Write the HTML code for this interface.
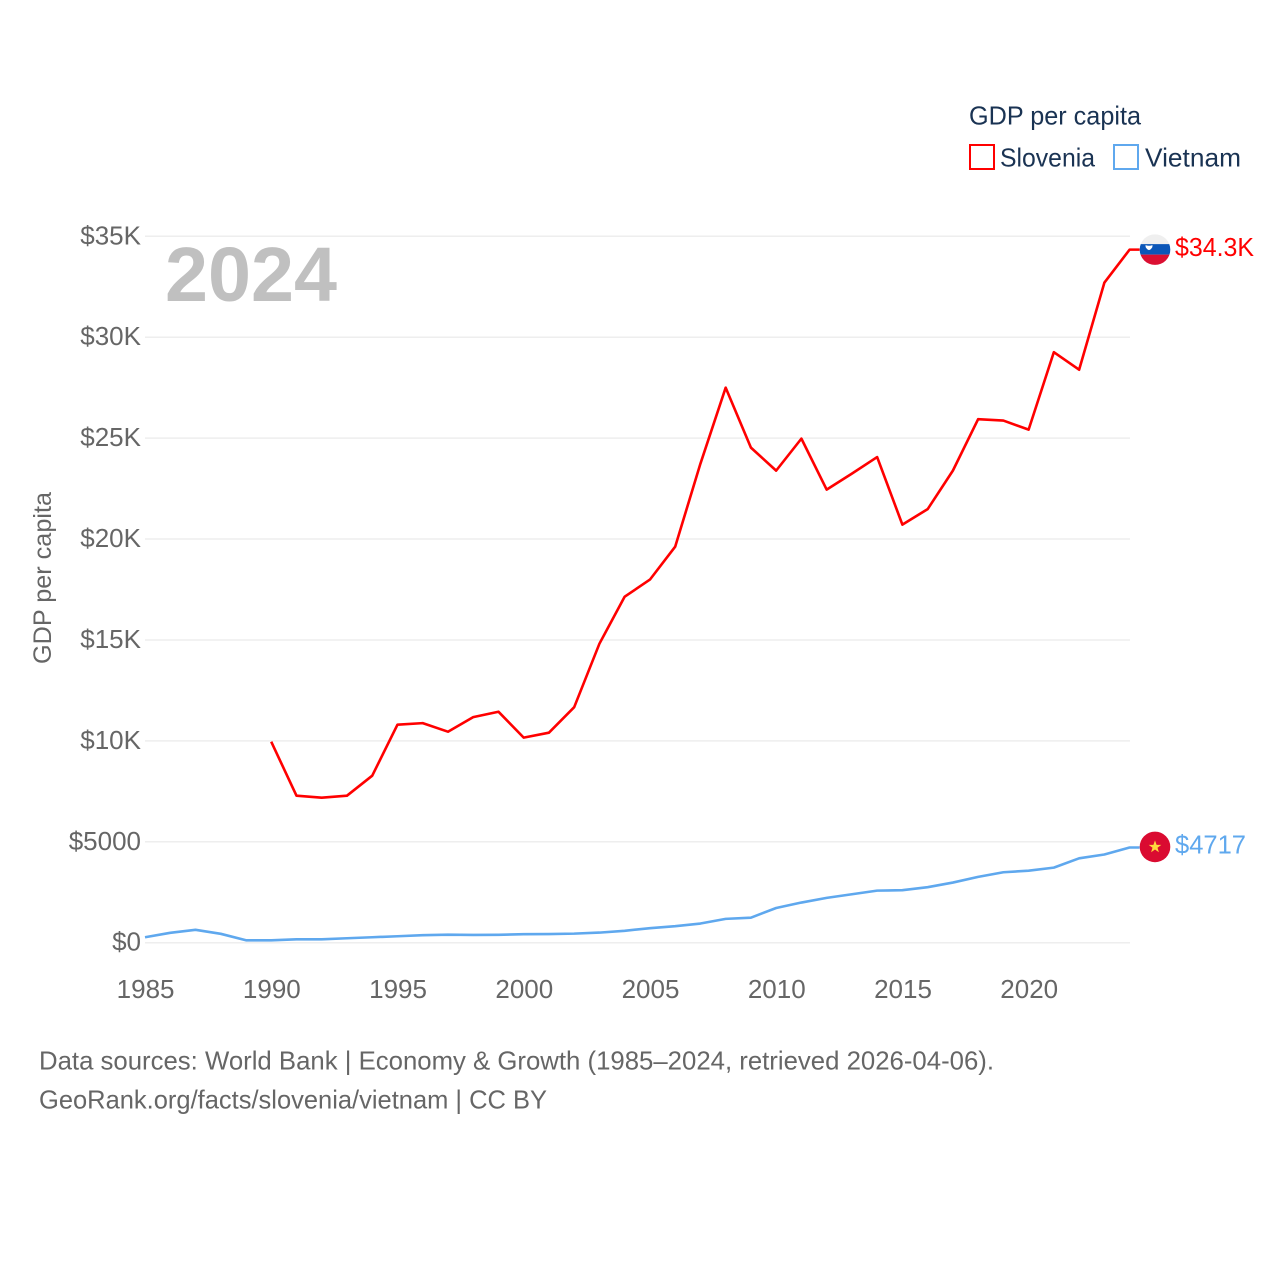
<!DOCTYPE html>
<html lang="en">
<head>
<meta charset="utf-8">
<title>GDP per capita: Slovenia and Vietnam</title>
<style>
html,body{margin:0;padding:0;background:#fff;width:1280px;height:1280px;overflow:hidden}
svg{display:block}
text{font-family:"Liberation Sans",Arial,sans-serif}
</style>
</head>
<body>
<svg id="chart" xmlns="http://www.w3.org/2000/svg" width="1280" height="1280" viewBox="0 0 1280 1280">
  <rect width="1280" height="1280" fill="#fff"/>
  <g id="grid"></g>
  <g id="yticks"></g>
  <g id="xticks"></g>
  <text x="165" y="301" font-size="77" font-weight="700" fill="#c0c0c0" textLength="172" lengthAdjust="spacingAndGlyphs">2024</text>
  <text transform="translate(51 664) rotate(-90)" font-size="25" fill="#666" textLength="172" lengthAdjust="spacingAndGlyphs">GDP per capita</text>
  <g id="series"></g>
  <g id="ends"></g>

  <g>
    <text x="969" y="124.5" font-size="26" fill="#1a3353" textLength="172" lengthAdjust="spacingAndGlyphs">GDP per capita</text>
    <g>
      <rect x="970" y="145" width="24" height="24" fill="#fff" stroke="#ff0000" stroke-width="2"/>
      <text x="1000" y="166.5" font-size="26" fill="#1a3353" textLength="95" lengthAdjust="spacingAndGlyphs">Slovenia</text>
    </g>
    <g>
      <rect x="1114" y="145" width="24" height="24" fill="#fff" stroke="#5fa8ee" stroke-width="2"/>
      <text x="1145" y="166.5" font-size="26" fill="#1a3353" textLength="96" lengthAdjust="spacingAndGlyphs">Vietnam</text>
    </g>
  </g>

  <text x="39" y="1069.5" font-size="26" fill="#666" textLength="955" lengthAdjust="spacingAndGlyphs">Data sources: World Bank | Economy &amp; Growth (1985–2024, retrieved 2026-04-06).</text>
  <text x="39" y="1108.5" font-size="26" fill="#666" textLength="508" lengthAdjust="spacingAndGlyphs">GeoRank.org/facts/slovenia/vietnam | CC BY</text>
</svg>
<script>
const years = [1985,1986,1987,1988,1989,1990,1991,1992,1993,1994,1995,1996,1997,1998,1999,2000,2001,2002,2003,2004,2005,2006,2007,2008,2009,2010,2011,2012,2013,2014,2015,2016,2017,2018,2019,2020,2021,2022,2023,2024];
const sloveniaValues = [null,null,null,null,null,9960,7284,7185,7284,8275,10800,10880,10455,11175,11445,10160,10405,11670,14815,17145,17990,19620,23735,27500,24530,23390,24975,22450,23240,24060,20715,21480,23390,25940,25870,25420,29260,28390,32700,34340];
const vietnamValues = [270,490,640,440,120,120,170,170,220,270,320,370,395,385,390,420,430,450,500,590,720,820,950,1180,1240,1720,1990,2220,2400,2580,2600,2750,2980,3260,3490,3570,3720,4180,4370,4717];
const yTickValues = [0,5000,10000,15000,20000,25000,30000,35000];
const yTickLabels = ["$0","$5000","$10K","$15K","$20K","$25K","$30K","$35K"];
const xTickValues = [1985,1990,1995,2000,2005,2010,2015,2020];
const xTickLabels = ["1985","1990","1995","2000","2005","2010","2015","2020"];
const sloveniaEndLabel = "$34.3K";
const vietnamEndLabel = "$4717";

const NS = "http://www.w3.org/2000/svg";
function xScale(year){ return 145 + (year - 1985) * (1129.6 - 145) / 39; }
function yScale(v){ return 942.7 - v * (942.7 - 236.3) / 35000; }
function make(tag, attrs, parent){
  const el = document.createElementNS(NS, tag);
  for (const k in attrs) el.setAttribute(k, attrs[k]);
  parent.appendChild(el);
  return el;
}

const gridG = document.getElementById('grid');
const yG = document.getElementById('yticks');
yTickValues.forEach(function(v, i){
  const line = make('line', {x1:145, x2:1130, y1:yScale(v), y2:yScale(v), stroke:'#eeeeee', 'stroke-width':1.5}, gridG);
  
  
  const t = make('text', {x:141, y:yScale(v)+8, 'text-anchor':'end', 'font-size':26, fill:'#666'}, yG);
  
  
  t.textContent = yTickLabels[i];
});

const xG = document.getElementById('xticks');
xTickValues.forEach(function(y, i){
  const t = make('text', {x:xScale(y)+0.6, y:998, 'text-anchor':'middle', 'font-size':26, fill:'#666'}, xG);
  
  
  t.textContent = xTickLabels[i];
});

function linePath(values){
  let d = '', started = false;
  values.forEach(function(v, i){
    if (v === null) return;
    d += (started ? 'L' : 'M') + xScale(years[i]).toFixed(2) + ' ' + yScale(v).toFixed(2);
    started = true;
  });
  const last = values[values.length - 1];
  d += 'L' + (xScale(years[years.length - 1]) + 10).toFixed(2) + ' ' + yScale(last).toFixed(2);
  return d;
}

const seriesG = document.getElementById('series');
const sloveniaLine = make('path', {d:linePath(sloveniaValues), fill:'none', stroke:'#ff0000', 'stroke-width':2.6, 'stroke-linejoin':'round'}, seriesG);


const vietnamLine = make('path', {d:linePath(vietnamValues), fill:'none', stroke:'#5fa8ee', 'stroke-width':2.6, 'stroke-linejoin':'round'}, seriesG);



const endsG = document.getElementById('ends');
const defs = make('defs', {}, endsG);
const clip = make('clipPath', {id:'si-clip'}, defs);
make('circle', {cx:0, cy:0, r:15.3}, clip);

// Slovenia flag marker
const siY = yScale(sloveniaValues[sloveniaValues.length - 1]);
const siFlag = make('g', {transform:'translate(1155 ' + siY.toFixed(2) + ')', 'clip-path':'url(#si-clip)'}, endsG);


make('rect', {x:-16, y:-16, width:32, height:11, fill:'#efefef'}, siFlag);
make('rect', {x:-16, y:-5.5, width:32, height:10.5, fill:'#0b56b8'}, siFlag);
make('rect', {x:-16, y:5, width:32, height:11, fill:'#db0f32'}, siFlag);
make('path', {d:'M-9.5 -4.5q3.5 1.2 7 0q.3 3.5-3.5 5q-3.8-1.5-3.5-5z', fill:'#fff'}, siFlag);

const siLabel = make('text', {x:1175, y:(siY + 6.5).toFixed(2), 'font-size':26, fill:'#ff0000', textLength:79, lengthAdjust:'spacingAndGlyphs'}, endsG);


siLabel.textContent = sloveniaEndLabel;

// Vietnam flag marker
const vnY = yScale(vietnamValues[vietnamValues.length - 1]);
const vnFlag = make('g', {transform:'translate(1155 ' + (vnY - 0.6).toFixed(2) + ')'}, endsG);


make('circle', {cx:0, cy:0, r:15.3, fill:'#da0b31'}, vnFlag);
make('path', {d:'M0 -6.5L1.6 -2H6.3L2.5 .8L3.9 5.4L0 2.6L-3.9 5.4L-2.5 .8L-6.3 -2H-1.6Z', fill:'#ffd83d'}, vnFlag);

const vnLabel = make('text', {x:1175, y:(vnY + 6).toFixed(2), 'font-size':26, fill:'#5fa8ee', textLength:71, lengthAdjust:'spacingAndGlyphs'}, endsG);


vnLabel.textContent = vietnamEndLabel;
</script>
</body>
</html>
